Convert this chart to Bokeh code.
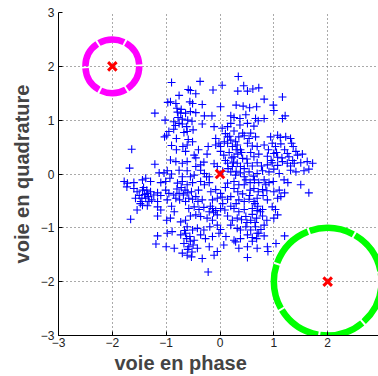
from bokeh.plotting import figure
from bokeh.models import Range1d, FixedTicker, Title, CustomJSTickFormatter
from bokeh.embed import file_html
from bokeh.resources import INLINE

# received symbols (in-phase, quadrature)
pts = [
(0.34,1.81),(-0.90,1.70),(-0.37,1.72),(0.44,1.64),(0.04,1.65),(-0.13,1.56),(-0.59,1.57),(-0.55,1.55),
(0.33,1.54),(0.51,1.54),(0.61,1.58),(0.72,1.60),(-0.76,1.46),(-0.45,1.49),(0.82,1.39),(1.16,1.43),
(-0.97,1.33),(-0.92,1.34),(-0.82,1.31),(-0.56,1.34),(-0.51,1.31),(-0.33,1.29),(0.01,1.25),(0.30,1.28),
(0.43,1.26),(0.55,1.23),(0.68,1.25),(0.99,1.28),(1.00,1.18),(-1.21,1.13),(-0.79,1.15),(-0.73,1.13),
(-0.64,1.13),(-0.55,1.16),(-0.45,1.14),(-0.29,1.08),(-0.15,1.08),(0.20,1.08),(0.26,1.05),(0.37,1.03),
(0.48,1.10),(0.66,1.03),(0.71,0.99),(0.82,1.03),(1.21,1.08),(1.16,1.03),(-1.02,1.00),(-0.86,0.97),
(-0.76,0.94),(-0.70,0.93),(-0.33,0.93),(-0.11,0.88),(0.04,0.85),(0.14,0.88),(0.20,0.94),(0.37,0.91),
(0.51,0.94),(0.63,0.89),(-0.50,0.82),(-0.61,0.79),(-0.67,0.77),(-0.86,0.83),(-0.95,0.79),(0.26,0.80),
(0.42,0.76),(0.45,0.71),(0.57,0.76),(0.66,0.69),(0.94,0.69),(1.07,0.72),(1.12,0.68),(-1.03,0.69),
(-0.99,0.72),(-0.81,0.66),(-0.59,0.64),(-0.51,0.60),(-0.08,0.66),(0.14,0.69),(0.20,0.63),(0.29,0.60),
(0.35,0.69),(0.54,0.66),(1.22,0.69),(1.31,0.66),(-0.90,0.53),(-0.69,0.51),(-0.61,0.54),(-0.22,0.51),
(-0.08,0.54),(-0.02,0.57),(0.01,0.51),(0.14,0.57),(0.23,0.51),(0.32,0.54),(0.38,0.45),(0.51,0.57),
(0.60,0.52),(0.69,0.51),(0.82,0.54),(0.97,0.57),(1.03,0.51),(1.13,0.56),(1.33,0.57),(1.36,0.51),
(-1.64,0.46),(-0.81,0.45),(-0.64,0.42),(-0.48,0.35),(-0.24,0.37),(0.01,0.42),(0.07,0.35),(0.17,0.40),
(0.26,0.32),(0.33,0.37),(0.42,0.29),(0.57,0.40),(0.63,0.32),(0.72,0.37),(0.88,0.33),(1.00,0.38),
(1.07,0.31),(1.25,0.38),(1.28,0.32),(1.41,0.42),(1.44,0.35),(1.53,0.37),(-0.92,0.26),(-0.82,0.23),
(-0.70,0.20),(-0.61,0.23),(-0.45,0.14),(-0.36,0.17),(-0.30,0.22),(-0.11,0.19),(-0.05,0.14),(0.14,0.20),
(0.23,0.14),(0.32,0.20),(0.38,0.14),(0.51,0.20),(0.60,0.15),(0.69,0.21),(0.77,0.15),(0.88,0.17),
(0.97,0.21),(1.07,0.16),(1.16,0.23),(1.25,0.20),(1.31,0.15),(1.38,0.20),(1.50,0.21),(1.62,0.23),
(1.72,0.20),(-1.68,0.11),(-1.21,0.18),(-1.13,0.02),(-1.04,0.02),(-0.98,0.06),(-0.76,0.07),(-0.61,0.06),
(-0.55,-0.05),(-0.48,-0.02),(-0.36,0.07),(-0.29,0.01),(-0.20,-0.05),(0.20,0.04),(0.29,-0.02),(0.38,0.02),
(0.54,0.04),(0.62,-0.04),(0.69,0.01),(0.79,0.06),(0.91,0.04),(1.00,0.09),(1.10,0.01),(1.31,0.07),
(1.41,0.04),(1.56,0.06),(1.65,0.09),(-1.78,-0.14),(-1.72,-0.17),(-1.60,-0.16),(-1.44,-0.11),(-1.38,-0.08),
(-1.29,-0.14),(-1.10,-0.16),(-1.01,-0.14),(-0.93,-0.08),(-0.79,-0.17),(-0.70,-0.14),(-0.61,-0.20),(-0.51,-0.16),
(-0.36,-0.14),(-0.29,-0.20),(-0.20,-0.16),(0.14,-0.17),(0.26,-0.14),(0.35,-0.20),(0.48,-0.11),(0.56,-0.16),
(0.64,-0.11),(0.72,-0.16),(0.82,-0.11),(0.91,-0.16),(0.99,-0.14),(1.19,-0.11),(1.26,-0.16),(1.50,-0.20),
(-1.73,-0.24),(-1.60,-0.27),(-1.54,-0.33),(-1.44,-0.30),(-1.35,-0.36),(-1.29,-0.33),(-1.23,-0.39),(-1.16,-0.35),
(-1.01,-0.30),(-0.95,-0.36),(-0.86,-0.39),(-0.76,-0.36),(-0.68,-0.39),(-0.61,-0.35),(-0.53,-0.33),(-0.45,-0.42),
(-0.17,-0.33),(-0.08,-0.29),(0.01,-0.36),(0.26,-0.27),(0.33,-0.33),(0.42,-0.37),(0.56,-0.30),(0.63,-0.27),
(0.71,-0.33),(0.79,-0.29),(0.87,-0.31),(1.00,-0.33),(1.10,-0.30),(1.20,-0.35),(1.65,-0.35),(-1.57,-0.45),
(-1.47,-0.51),(-1.38,-0.45),(-1.32,-0.51),(-1.16,-0.51),(-0.98,-0.48),(-0.82,-0.45),(-0.64,-0.51),(-0.51,-0.47),
(-0.41,-0.51),(-0.33,-0.48),(-0.14,-0.48),(-0.05,-0.45),(0.04,-0.43),(0.14,-0.47),(0.20,-0.42),(0.35,-0.48),
(0.45,-0.51),(0.54,-0.47),(0.63,-0.51),(0.69,-0.45),(0.88,-0.48),(1.07,-0.45),(1.13,-0.42),(-1.54,-0.67),
(-1.44,-0.58),(-1.35,-0.59),(-1.16,-0.61),(-1.10,-0.67),(-0.58,-0.64),(-0.48,-0.61),(-0.39,-0.66),(-0.30,-0.62),
(-0.14,-0.64),(-0.08,-0.68),(0.01,-0.64),(0.09,-0.67),(0.26,-0.64),(0.35,-0.70),(0.45,-0.66),(0.60,-0.64),
(0.69,-0.68),(0.79,-0.66),(0.97,-0.61),(1.03,-0.66),(-1.66,-0.84),(-1.16,-0.78),(-0.99,-0.86),(-0.92,-0.82),
(-0.73,-0.89),(-0.64,-0.86),(-0.55,-0.78),(-0.45,-0.76),(-0.36,-0.79),(-0.24,-0.82),(-0.14,-0.86),(-0.05,-0.76),
(0.14,-0.78),(0.23,-0.86),(0.32,-0.82),(0.48,-0.79),(0.57,-0.86),(0.68,-0.82),(0.79,-0.78),(0.87,-0.86),
(1.00,-0.82),(1.07,-0.76),(-0.61,-0.98),(-0.51,-1.04),(-0.42,-1.01),(-0.30,-1.04),(-0.19,-0.98),(-0.05,-0.95),
(0.01,-1.03),(0.20,-0.95),(0.32,-1.01),(0.38,-1.04),(0.48,-0.98),(0.57,-1.04),(0.66,-0.98),(0.76,-1.03),
(0.82,-0.95),(-1.16,-1.15),(-0.98,-1.10),(-0.89,-1.07),(-0.73,-1.13),(-0.64,-1.10),(-0.56,-1.16),(-0.48,-1.23),
(-0.36,-1.13),(-0.27,-1.20),(-0.14,-1.16),(-0.02,-1.10),(0.11,-1.16),(0.26,-1.23),(0.38,-1.20),(0.51,-1.13),
(0.60,-1.18),(0.69,-1.10),(0.82,-1.15),(1.20,-1.15),(-1.19,-1.30),(-1.00,-1.35),(-0.85,-1.38),(-0.67,-1.29),
(-0.58,-1.35),(-0.50,-1.32),(-0.42,-1.38),(-0.20,-1.35),(-0.05,-1.44),(0.07,-1.32),(0.29,-1.26),(0.35,-1.38),
(0.51,-1.35),(0.69,-1.38),(0.88,-1.35),(1.04,-1.29),(-0.70,-1.47),(-0.61,-1.51),(-0.53,-1.54),(-0.33,-1.57),
(-0.11,-1.51),(0.51,-1.55),(0.89,-1.44),(-0.22,-1.82),
(-0.78,1.05),(-0.70,1.02),(-0.60,1.00),(-0.52,0.98),(-0.83,0.90),(-0.62,0.88),(-0.72,1.20),(-0.80,1.22),
(-1.50,-0.40),(-1.45,-0.45),(-1.40,-0.38),(-1.33,-0.42),(-1.27,-0.48),(-1.48,-0.55),(-1.42,-0.25),(-1.36,-0.30),
(-0.80,-0.28),(-0.72,-0.25),(-0.65,-0.30),(-0.58,-0.45),(-0.75,-0.48),(-0.62,-1.20),(-0.55,-1.25),(-0.60,-1.40),
(-0.52,-1.45),(-0.66,-1.05),(-0.20,-0.70),(-0.12,-0.72),(-0.18,-0.60),(0.10,0.75),(0.18,0.70),(0.30,0.45),
(0.22,0.30),(0.10,0.25),(0.15,0.10),(0.05,0.05),(0.25,0.22),(0.45,0.10),(0.50,0.28),(0.40,0.40),
(0.08,0.60),(0.30,0.05),(0.45,-0.05),(0.90,0.45),(1.05,0.40),(1.15,0.30),(1.20,0.45),(0.95,0.25),
(1.35,0.25),(0.45,-0.20),(0.55,-0.40),(0.65,-0.55),(0.70,-0.60),(0.75,-0.70),(0.60,-0.75),(0.50,-0.90),
(0.65,-0.90),(0.72,-1.10),(0.40,-0.85),(0.30,-0.55),(0.80,-0.40),(0.10,-0.25),(0.05,-0.55),(0.20,-0.60),
(0.85,-0.20),(0.60,-1.25),(0.68,-1.20),(-0.90,0.00),(-0.70,-0.05),(-0.40,-0.30),(-0.25,-0.05),(-0.45,0.30),
(-0.40,0.45),(-1.10,-0.40),(-0.90,-0.60),(-0.85,-0.70),
]
sym_i = [p[0] for p in pts]
sym_q = [p[1] for p in pts]

# constellation points (red x) and decision circles
ref_i = [-2, 0, 2]
ref_q = [2, 0, -2]
circ_i = [-2, 2]
circ_q = [2, -2]
circ_r = [0.5, 1.0]
circ_col = ["#FF00FF", "#00FF00"]
circ_dash = ["26 2", "45 2"]

x_ticks = [-3, -2, -1, 0, 1, 2, 3]
y_ticks = [-3, -2, -1, 0, 1, 2, 3]

p = figure(width=378, height=376, output_backend="svg", toolbar_location=None,
           x_range=Range1d(-3, 2.944), y_range=Range1d(-3, 3),
           min_border_left=58, min_border_right=0, min_border_top=12, min_border_bottom=41)
p.outline_line_color = None
p.background_fill_color = "white"

for ax in (p.xaxis[0], p.yaxis[0]):
    ax.major_tick_in = 4
    ax.major_tick_out = 0
    ax.minor_tick_line_color = None
    ax.axis_line_color = "black"
    ax.major_tick_line_color = "black"
    ax.major_label_text_font = "Liberation Sans"
    ax.major_label_text_font_size = "12px"
    ax.major_label_text_color = "#222222"
    ax.formatter = CustomJSTickFormatter(code="return tick < 0 ? '\u2212' + Math.abs(tick) : '' + tick;")
p.xaxis.ticker = FixedTicker(ticks=x_ticks)
p.yaxis.ticker = FixedTicker(ticks=y_ticks)
p.xaxis.major_label_standoff = 2
p.yaxis.major_label_standoff = 4

p.yaxis.axis_label = "voie en quadrature"
p.yaxis.axis_label_text_font = "Liberation Sans"
p.yaxis.axis_label_text_font_style = "bold"
p.yaxis.axis_label_text_font_size = "20px"
p.yaxis.axis_label_standoff = 5

xt = Title(text="voie en phase", align="left", offset=56,
           text_font="Liberation Sans", text_font_style="bold", text_font_size="20px",
           standoff=0)
p.add_layout(xt, "below")

p.xgrid.grid_line_color = "#555555"
p.ygrid.grid_line_color = "#555555"
p.xgrid.grid_line_dash = "1 3"
p.ygrid.grid_line_dash = "1 3"

p.scatter(sym_i, sym_q, marker="cross", size=8, line_color="#0000FF", line_width=1.1)

for cx, cy, r, c, d in zip(circ_i, circ_q, circ_r, circ_col, circ_dash):
    p.circle(x=[cx], y=[cy], radius=r, fill_color=None, line_color=c, line_width=6.5, line_dash=d)

p.scatter(ref_i, ref_q, marker="x", size=12, line_color="#FF0000", line_width=3)

open("out.html", "w").write(file_html(p, INLINE))
